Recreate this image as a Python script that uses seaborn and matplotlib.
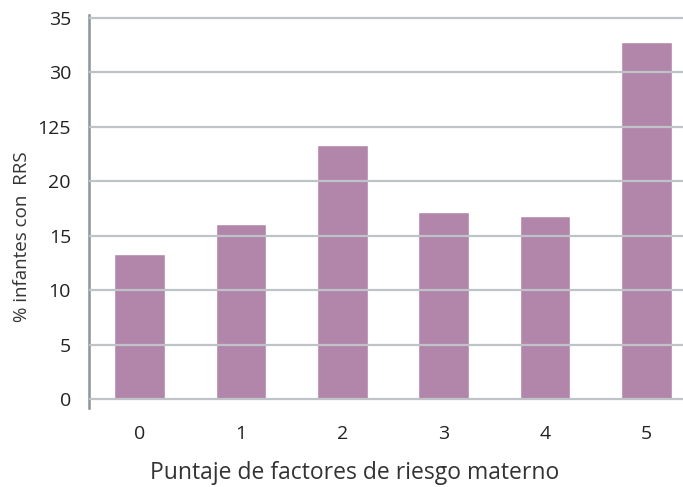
import matplotlib
matplotlib.use("Agg")
import matplotlib.pyplot as plt
import seaborn as sns
import pandas as pd

# Share of infants with RRS by maternal risk-factor score
scores = ["0", "1", "2", "3", "4", "5"]
pct_rrs = [13.3, 16.1, 23.3, 17.2, 16.8, 32.8]
ytick_values = [0, 5, 10, 15, 20, 25, 30, 35]
ytick_labels = ["0", "5", "10", "15", "20", "125", "30", "35"]

df = pd.DataFrame({"score": scores, "pct": pct_rrs})

sns.set_style("white")
plt.rcParams["font.family"] = ["Open Sans", "DejaVu Sans"]

fig = plt.figure(figsize=(6.83, 4.87), dpi=100)
ax = fig.add_axes([89 / 683, 79 / 487, 1 - 89 / 683, (408 - 15) / 487])

sns.barplot(data=df, x="score", y="pct", order=scores, color="#b286aa",
            saturation=1, width=0.5, ax=ax)

grid_col = "#bec3c7"
spine_col = "#8a949b"

ax.set_xlim(-0.5, 5.36)
ax.set_ylim(-0.83, 35.28)
ax.set_yticks(ytick_values)
ax.set_yticklabels(ytick_labels)
ax.set_axisbelow(False)
ax.yaxis.grid(True, color=grid_col, linewidth=1.6)
ax.xaxis.grid(False)

for side in ["top", "right", "bottom"]:
    ax.spines[side].set_visible(False)
ax.spines["left"].set_color(spine_col)
ax.spines["left"].set_linewidth(1.8)

ax.tick_params(axis="y", length=6, width=1.6, color=grid_col, pad=7,
               labelsize=14, labelcolor="#222222")
ax.tick_params(axis="x", length=0, pad=12, labelsize=14, labelcolor="#222222")

ax.set_xlabel("")
ax.set_ylabel("")
fig.text(22 / 683, 1 - 237 / 487, "% infantes con  RRS", rotation=90,
         ha="center", va="center", fontsize=13.5, color="#333333")
fig.text(355 / 683, 1 - 479 / 487, "Puntaje de factores de riesgo materno",
         ha="center", va="baseline", fontsize=16.5, color="#333333")

fig.savefig("out.png", dpi=100)
